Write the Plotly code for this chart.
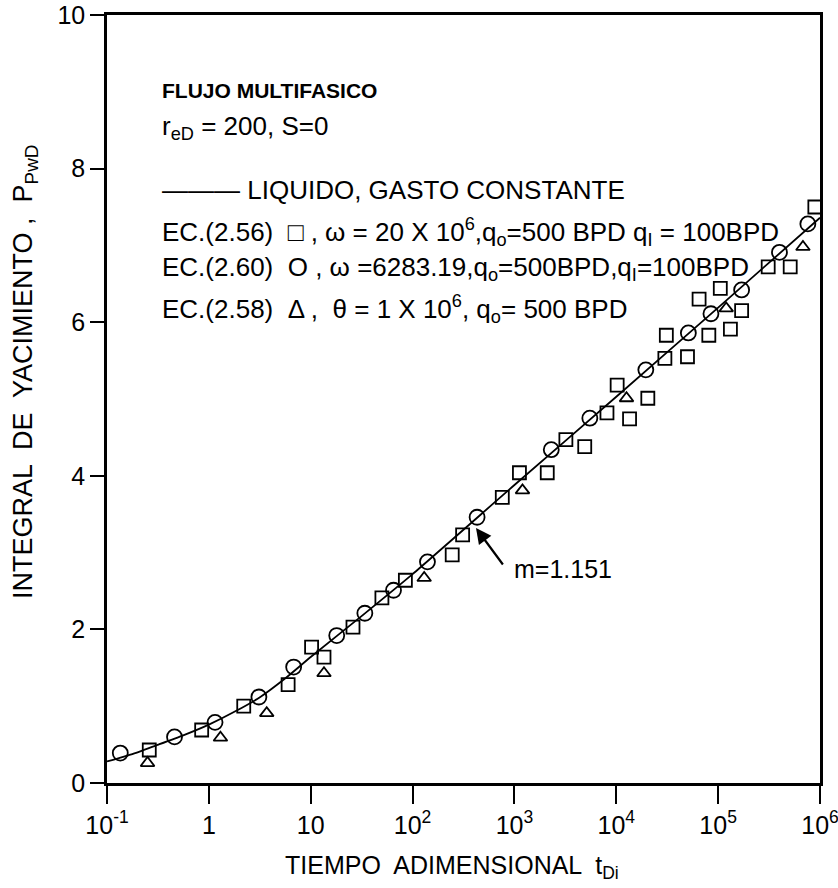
import plotly.graph_objects as go

# ---- data ----
line_t = [0.1, 0.18, 0.32, 0.56, 1, 1.8, 3.2, 5.6, 10, 32, 100, 1000, 1e4, 1e5, 1e6]
line_p = [0.28, 0.38, 0.50, 0.62, 0.76, 0.93, 1.12, 1.36, 1.64, 2.18, 2.72, 3.88, 5.03, 6.19, 7.36]

circ_t = [0.135, 0.46, 1.15, 3.1, 6.8, 18, 34, 65, 140, 430, 2300, 5500, 19500, 51000, 85000,
          170000, 400000, 760000]
circ_p = [0.39, 0.60, 0.79, 1.12, 1.51, 1.92, 2.21, 2.51, 2.88, 3.46, 4.34, 4.75, 5.38, 5.86, 6.11,
          6.42, 6.91, 7.28]

sq_t = [0.26, 0.85, 2.2, 6.0, 10.2, 13.5, 26, 50, 85, 245, 310, 760, 1120, 2100, 3200, 4900, 8100,
        10200, 13500, 20400, 30000, 50000, 31000, 81000, 65000, 132000, 170000, 105000, 310000,
        510000, 890000]
sq_p = [0.43, 0.69, 1.00, 1.28, 1.77, 1.64, 2.03, 2.41, 2.64, 2.97, 3.23, 3.72, 4.04, 4.04, 4.47,
        4.38, 4.82, 5.18, 4.74, 5.01, 5.53, 5.55, 5.83, 5.83, 6.30, 5.91, 6.15, 6.44, 6.72, 6.72, 7.5]

tri_t = [0.25, 1.3, 3.7, 13.5, 130, 1200, 12600, 120000, 680000]
tri_p = [0.26, 0.59, 0.91, 1.43, 2.67, 3.81, 5.01, 6.18, 6.98]

x_tickvals = [0.1, 1, 10, 100, 1000, 1e4, 1e5, 1e6]
x_ticktext = ["10<sup>-1</sup>", "1", "10", "10<sup>2</sup>", "10<sup>3</sup>",
              "10<sup>4</sup>", "10<sup>5</sup>", "10<sup>6</sup>"]
y_tickvals = [0, 2, 4, 6, 8, 10]

FONT = "Liberation Sans, Arial, sans-serif"

fig = go.Figure()
fig.add_trace(go.Scatter(x=line_t, y=line_p, mode="lines",
                         line=dict(color="black", width=1.8, shape="spline", smoothing=0.6),
                         hoverinfo="skip"))
fig.add_trace(go.Scatter(x=sq_t, y=sq_p, mode="markers",
                         marker=dict(symbol="square-open", size=13, color="black",
                                     line=dict(width=1.8, color="black"))))
fig.add_trace(go.Scatter(x=circ_t, y=circ_p, mode="markers",
                         marker=dict(symbol="circle-open", size=15, color="black",
                                     line=dict(width=1.8, color="black"))))
fig.add_trace(go.Scatter(x=tri_t, y=tri_p, mode="markers",
                         marker=dict(symbol="triangle-up-open", size=12, color="black",
                                     line=dict(width=1.8, color="black"))))

W, H = 838, 888
L, R, T, B = 107, 18, 15, 105
PW, PH = W - L - R, H - T - B

def px(xp):
    return (xp - L) / PW

def py(yp):
    return (H - B - yp) / PH

annots = []
tx = px(160)
lines = [
    ("<b>FLUJO MULTIFASICO</b>", 90, 21),
    ("r<sub>eD</sub> = 200, S=0", 128, 26),
    ("——— LIQUIDO, GASTO CONSTANTE", 190, 26),
    ("EC.(2.56)  □ , ω = 20 X 10<sup>6</sup>,q<sub>o</sub>=500 BPD q<sub>I</sub> = 100BPD", 232, 26),
    ("EC.(2.60)  O , ω =6283.19,q<sub>o</sub>=500BPD,q<sub>I</sub>=100BPD", 268, 26),
    ("EC.(2.58)  Δ ,  θ = 1 X 10<sup>6</sup>, q<sub>o</sub>= 500 BPD", 309, 26),
]
for txt, yy, fs in lines:
    annots.append(dict(text=txt, x=tx, y=py(yy), xref="paper", yref="paper",
                       xanchor="left", yanchor="middle", showarrow=False,
                       font=dict(family=FONT, size=fs, color="black")))

# slope label and arrow
annots.append(dict(text="m=1.151", x=px(512), y=py(569), xref="paper", yref="paper",
                   xanchor="left", yanchor="middle", showarrow=False,
                   font=dict(family=FONT, size=25, color="black")))
annots.append(dict(text="", x=px(476), y=py(528), xref="paper", yref="paper",
                   ax=28, ay=38, showarrow=True, arrowhead=2, arrowsize=1.4,
                   arrowwidth=2.2, arrowcolor="black"))

# axis titles
annots.append(dict(text="TIEMPO  ADIMENSIONAL  t<sub>Di</sub>", x=px(452), y=py(867),
                   xref="paper", yref="paper", xanchor="center", yanchor="middle",
                   showarrow=False, font=dict(family=FONT, size=25, color="black")))
annots.append(dict(text="INTEGRAL  DE  YACIMIENTO ,  P<sub>PwD</sub>", x=px(25), y=py(372),
                   xref="paper", yref="paper", xanchor="center", yanchor="middle",
                   textangle=-90, showarrow=False,
                   font=dict(family=FONT, size=27, color="black")))

fig.update_layout(
    width=W, height=H,
    margin=dict(l=L, r=R, t=T, b=B, autoexpand=False),
    paper_bgcolor="white", plot_bgcolor="white",
    showlegend=False,
    annotations=annots,
    xaxis=dict(type="log", range=[-1, 6], tickvals=x_tickvals, ticktext=x_ticktext,
               ticklabeloverflow="allow",
               showgrid=False, zeroline=False, showline=True, linewidth=2.5,
               linecolor="black", mirror=True, ticks="outside", ticklen=18,
               tickwidth=2, tickcolor="black",
               tickfont=dict(family=FONT, size=25, color="black")),
    yaxis=dict(range=[0, 10], tickvals=y_tickvals, ticklabeloverflow="allow",
               showgrid=False, zeroline=False, showline=True, linewidth=2.5,
               linecolor="black", mirror=True, ticks="outside", ticklen=14,
               tickwidth=2, tickcolor="black",
               tickfont=dict(family=FONT, size=25, color="black")),
)

fig.write_html("out.html")
